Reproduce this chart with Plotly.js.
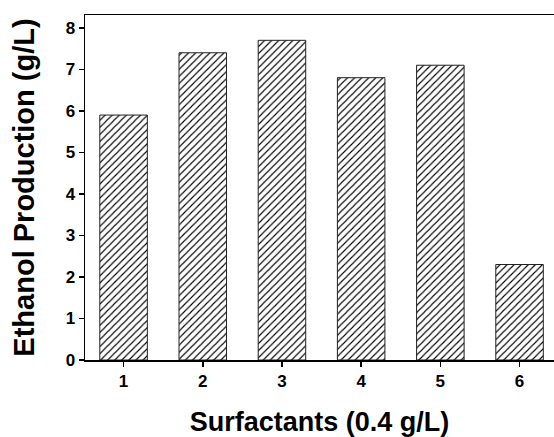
<!DOCTYPE html>
<html>
<head>
<meta charset="utf-8">
<script src="https://cdn.plot.ly/plotly-3.0.1.min.js"></script>
<style>html,body{margin:0;padding:0;background:#fff;}#chart{width:554px;height:437px;}</style>
</head>
<body>
<div id="chart"></div>
<script>
const categories = [1, 2, 3, 4, 5, 6];
const ethanol = [5.9, 7.4, 7.7, 6.8, 7.1, 2.3];
const tickLabels = ['1', '2', '3', '4', '5', '6'];
const yTicks = [0, 1, 2, 3, 4, 5, 6, 7, 8];

const trace = {
  type: 'bar',
  x: categories,
  y: ethanol,
  width: 0.6,
  marker: {
    color: '#ffffff',
    line: {color: '#222222', width: 1},
    pattern: {shape: '/', fgcolor: '#000000', bgcolor: '#ffffff', size: 5, solidity: 0.22}
  },
  hoverinfo: 'skip'
};

const font = {family: 'Liberation Sans, Arial, sans-serif', color: '#000000'};

const layout = {
  width: 554, height: 437,
  margin: {l: 85, r: 0, t: 15, b: 77},
  paper_bgcolor: '#ffffff', plot_bgcolor: '#ffffff',
  showlegend: false,
  font: font,
  xaxis: {
    range: [0.513, 6.435],
    tickvals: categories, ticktext: tickLabels,
    ticks: 'outside', ticklen: 5, tickwidth: 1.5, tickcolor: '#000',
    showline: true, linecolor: '#000', linewidth: 1.5, mirror: true,
    showgrid: false, zeroline: false,
    tickfont: {family: font.family, size: 17, color: '#000', weight: 'bold'},
    title: {text: 'Surfactants (0.4 g/L)', font: {family: font.family, size: 27, color: '#000', weight: 'bold'}, standoff: 24},
    automargin: false
  },
  yaxis: {
    range: [0, 8.31],
    tickvals: yTicks,
    ticks: 'outside', ticklen: 5, tickwidth: 1.5, tickcolor: '#000',
    showline: true, linecolor: '#000', linewidth: 1.5, mirror: false,
    showgrid: false, zeroline: false,
    tickfont: {family: font.family, size: 17, color: '#000', weight: 'bold'},
    title: {text: 'Ethanol Production (g/L)', font: {family: font.family, size: 29, color: '#000', weight: 'bold'}, standoff: 22},
    automargin: false
  }
};

Plotly.newPlot('chart', [trace], layout, {displayModeBar: false, staticPlot: true});
</script>
</body>
</html>
